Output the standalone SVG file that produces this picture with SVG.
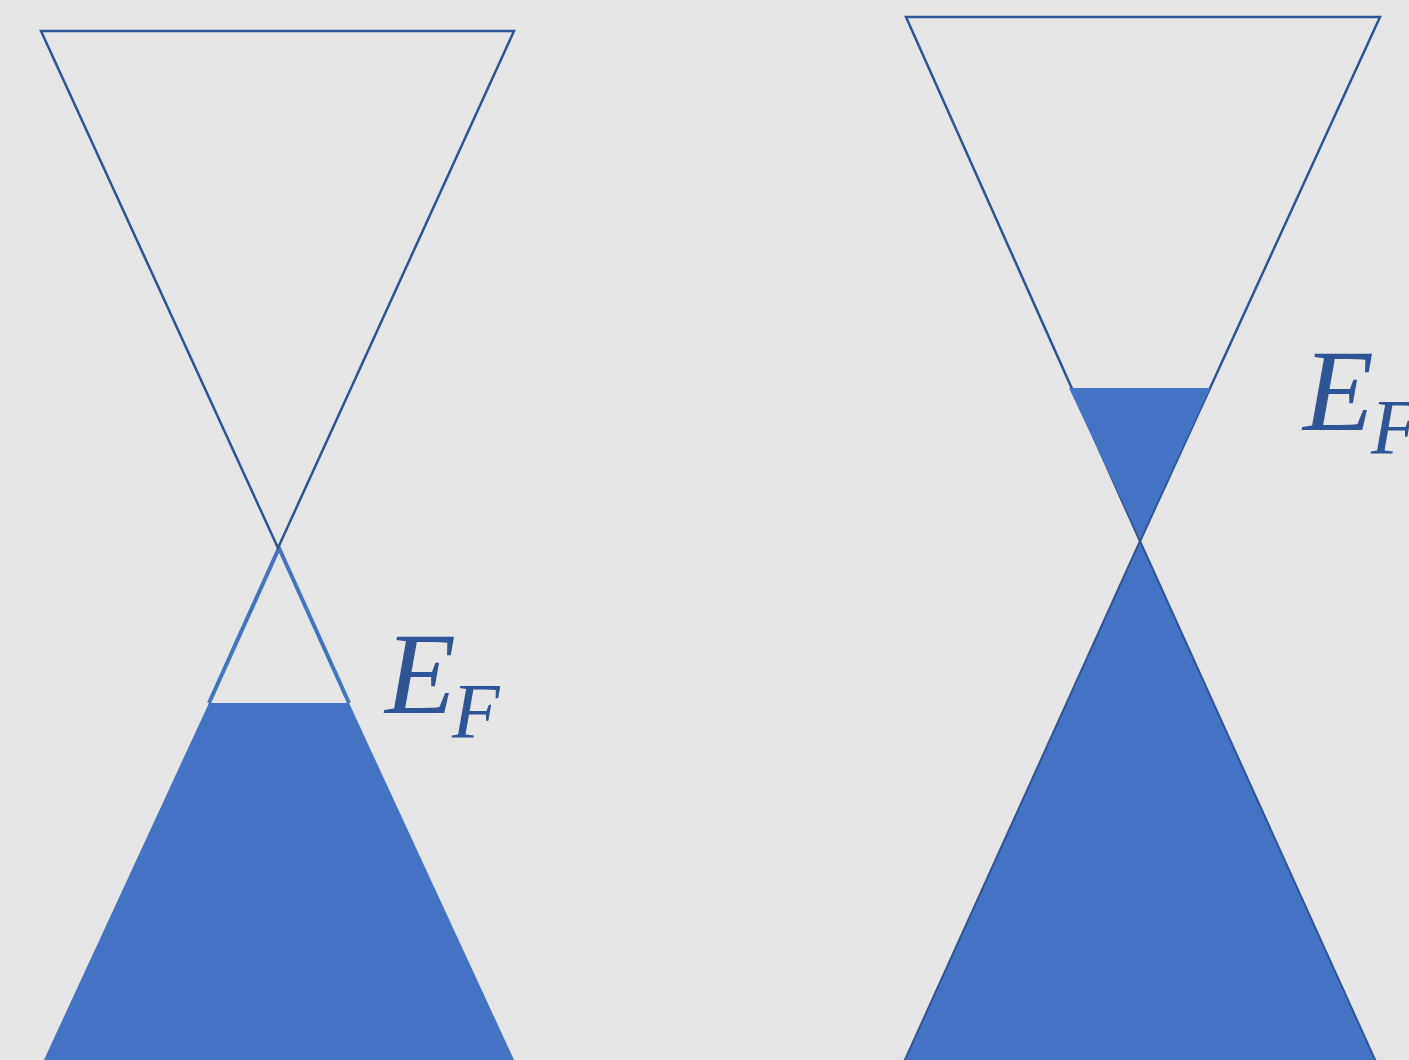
<svg xmlns="http://www.w3.org/2000/svg" width="1409" height="1060" viewBox="0 0 1409 1060">
<style>
.bg{fill:#E7E6E6}
.outline{fill:none;stroke:#2F5597;stroke-width:2.5;stroke-linejoin:miter}
.fill{fill:#4472C4}
.lightline{fill:none;stroke:#4472C4;stroke-width:4;stroke-linejoin:miter}
.filledge{fill:#4472C4;stroke:#2F5597;stroke-width:2}
.lbl{font-family:"Liberation Serif","DejaVu Serif",serif;font-style:italic;fill:#2F5597}
</style>
<rect class="bg" x="0" y="0" width="1409" height="1060"/>
<g id="left-cone">
  <path class="fill" d="M209,703 L349,703 L515,1062 L43,1062 Z"/>
  <path class="lightline" d="M209,703 L279,548 L349,703"/>
  <path class="outline" d="M41,31 L514,31 L278,548 Z"/>
</g>
<g id="left-ef">
  <text class="lbl" x="385" y="713" font-size="116">E<tspan x="452" y="737" font-size="78">F</tspan></text>
</g>
<g id="right-cone">
  <path class="filledge" d="M1140,541 L1377,1064 L903,1064 Z"/>
  <path class="outline" d="M906,17 L1380,17 L1140,541 Z"/>
  <path class="fill" d="M1069,388 L1210,388 L1140,539 Z"/>
</g>
<g id="right-ef">
  <text class="lbl" x="1303" y="430" font-size="116">E<tspan x="1371" y="453" font-size="78">F</tspan></text>
</g>
</svg>
